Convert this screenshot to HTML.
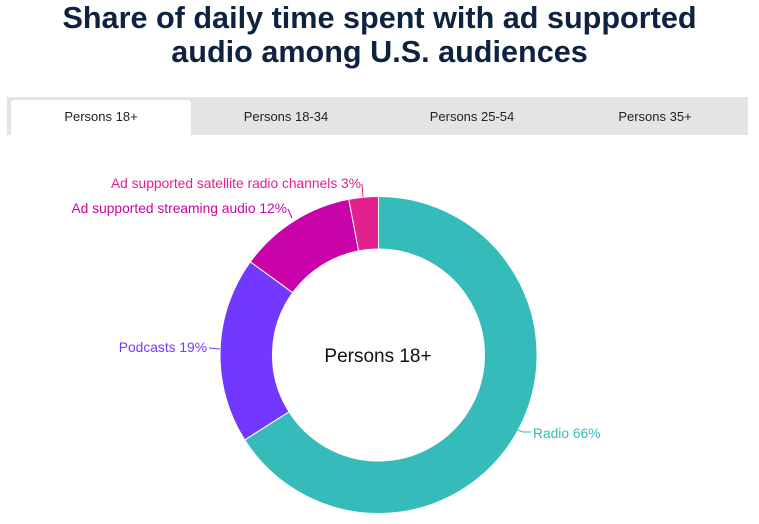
<!DOCTYPE html>
<html><head><meta charset="utf-8"><style>
body{margin:0;width:759px;height:524px;background:#fff;font-family:"Liberation Sans",sans-serif;overflow:hidden;position:relative}
h1{position:absolute;top:0;left:0;width:759px;margin:0;text-align:center;font-size:30.6px;line-height:34px;color:#0f2240;font-weight:bold;padding-top:1px}
.tabs{position:absolute;left:7px;top:97px;width:741px;height:38px;background:#e4e4e4}
.tab{position:absolute;top:3px;height:35px;line-height:34px;text-align:center;font-size:13px;color:#222}
.act{background:#fff;border-radius:3px 3px 0 0}
</style></head><body>
<h1>Share of daily time spent with ad supported<br>audio among U.S. audiences</h1>
<div class="tabs">
<div class="tab act" style="left:4px;width:180px">Persons 18+</div>
<div class="tab" style="left:184px;width:190px">Persons 18-34</div>
<div class="tab" style="left:370px;width:190px">Persons 25-54</div>
<div class="tab" style="left:553px;width:190px">Persons 35+</div>
</div>
<svg width="759" height="524" style="position:absolute;left:0;top:0">
<g stroke="#fff" stroke-width="1">
<path d="M378.5,196.5 A158.5,158.5 0 1 1 244.7,439.9 L289,411.8 A106,106 0 1 0 378.5,249 Z" fill="#35bbb9"/>
<path d="M244.7,439.9 A158.5,158.5 0 0 1 250.3,261.8 L292.7,292.7 A106,106 0 0 0 289,411.8 Z" fill="#7338fd"/>
<path d="M250.3,261.8 A158.5,158.5 0 0 1 348.8,199.3 L358.6,250.9 A106,106 0 0 0 292.7,292.7 Z" fill="#c903a9"/>
<path d="M348.8,199.3 A158.5,158.5 0 0 1 378.5,196.5 L378.5,249 A106,106 0 0 0 358.6,250.9 Z" fill="#e2218e"/>
</g>
<g fill="none" stroke-width="1">
<path d="M518,430 L523,432 L531,432" stroke="#35bbb9"/>
<path d="M209,348 L220,349" stroke="#7338fd"/>
<path d="M288,209 L292,218" stroke="#c903a9"/>
<path d="M362,184 L363,197" stroke="#e2218e"/>
</g>
<g font-size="13.8" font-family="Liberation Sans,sans-serif">
<text x="533" y="438" fill="#35bbb9">Radio 66%</text>
<text x="207" y="352" fill="#7338fd" text-anchor="end">Podcasts 19%</text>
<text x="287" y="213" fill="#c903a9" text-anchor="end">Ad supported streaming audio 12%</text>
<text x="361" y="188" fill="#e2218e" text-anchor="end">Ad supported satellite radio channels 3%</text>
<text x="378" y="362" fill="#111" font-size="19" text-anchor="middle">Persons 18+</text>
</g>
</svg>
</body></html>
